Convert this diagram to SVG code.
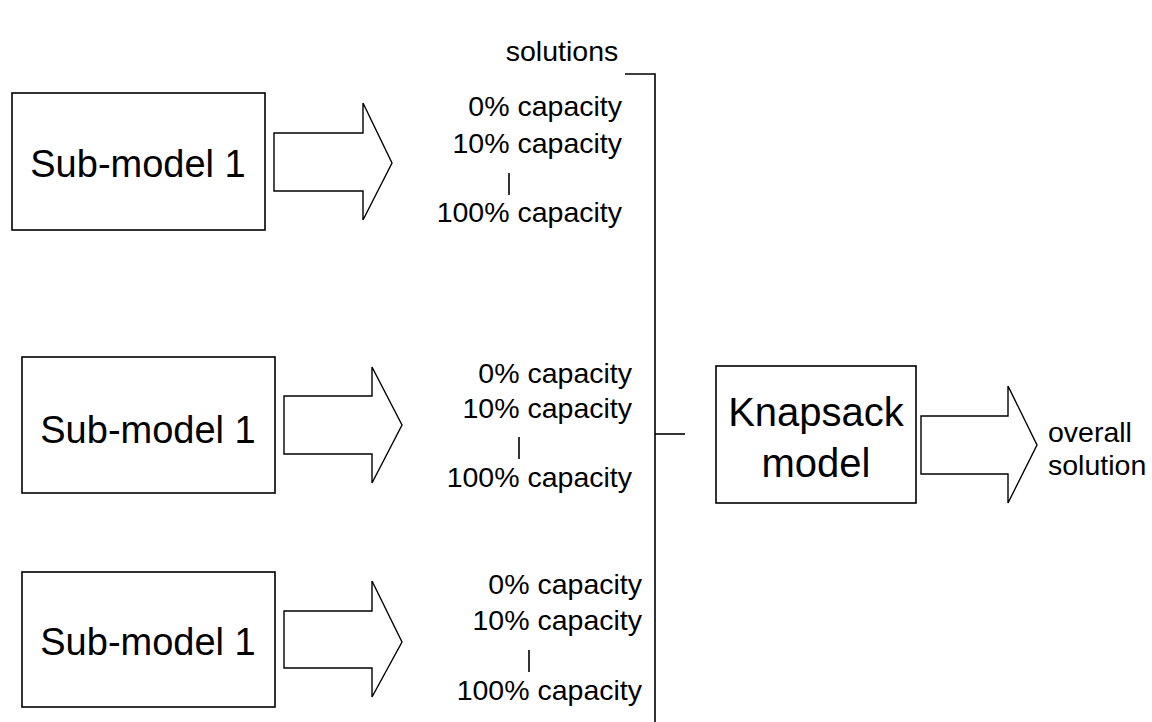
<svg xmlns="http://www.w3.org/2000/svg" width="1152" height="722" viewBox="0 0 1152 722">
<style>
.box{fill:#fff;stroke:#000;stroke-width:1.6}
.arr{fill:#fff;stroke:#000;stroke-width:1.4;stroke-linejoin:miter}
.ln{stroke:#000;stroke-width:1.6;fill:none}
.big{font-family:"Liberation Sans",Arial,sans-serif;font-size:38px;fill:#000;text-anchor:middle}
.sm{font-family:"Liberation Sans",Arial,sans-serif;font-size:28.5px;fill:#000}
.r{text-anchor:end}
</style>
<rect width="1152" height="722" fill="#fff"/>
<text id="solutions" class="sm" x="562" y="61" text-anchor="middle">solutions</text>
<g id="sub1">
<rect class="box" x="12" y="93" width="253" height="137"/>
<text class="big" x="138" y="177">Sub-model 1</text>
</g>
<g id="sub2">
<rect class="box" x="22" y="357" width="253" height="136"/>
<text class="big" x="148" y="443">Sub-model 1</text>
</g>
<g id="sub3">
<rect class="box" x="22" y="572" width="253" height="135"/>
<text class="big" x="148" y="655">Sub-model 1</text>
</g>
<g id="list1">
<text class="sm r" x="622" y="116">0% capacity</text>
<text class="sm r" x="622" y="153">10% capacity</text>
<line class="ln" x1="509" y1="173" x2="509" y2="195"/>
<text class="sm r" x="622" y="222">100% capacity</text>
</g>
<g id="list2">
<text class="sm r" x="632" y="383">0% capacity</text>
<text class="sm r" x="632" y="418">10% capacity</text>
<line class="ln" x1="519" y1="437" x2="519" y2="459"/>
<text class="sm r" x="632" y="487">100% capacity</text>
</g>
<g id="list3">
<text class="sm r" x="642" y="594">0% capacity</text>
<text class="sm r" x="642" y="630">10% capacity</text>
<line class="ln" x1="529" y1="650" x2="529" y2="672"/>
<text class="sm r" x="642" y="700">100% capacity</text>
</g>
<g id="knapsack">
<rect class="box" x="716" y="366" width="200" height="137"/>
<text class="big" x="816" y="426" style="font-size:40px">Knapsack</text>
<text class="big" x="816" y="477" style="font-size:40px">model</text>
</g>
<g id="result">
<text class="sm" x="1048" y="442">overall</text>
<text class="sm" x="1048" y="475">solution</text>
</g>
<g id="connectors">
<polygon class="arr" points="274,133 363,133 363,103 392,163 363,220 363,191 274,191"/>
<polygon class="arr" points="284,396 372,396 372,367 402,425 372,483 372,454 284,454"/>
<polygon class="arr" points="284,611 372,611 372,581 402,642 372,697 372,668 284,668"/>
<polygon class="arr" points="921,416 1008,416 1008,386 1037,445 1008,503 1008,474 921,474"/>
<polyline class="ln" points="625,74 655,74 655,722"/>
<line class="ln" x1="655" y1="434" x2="685" y2="434"/>
</g>
</svg>
